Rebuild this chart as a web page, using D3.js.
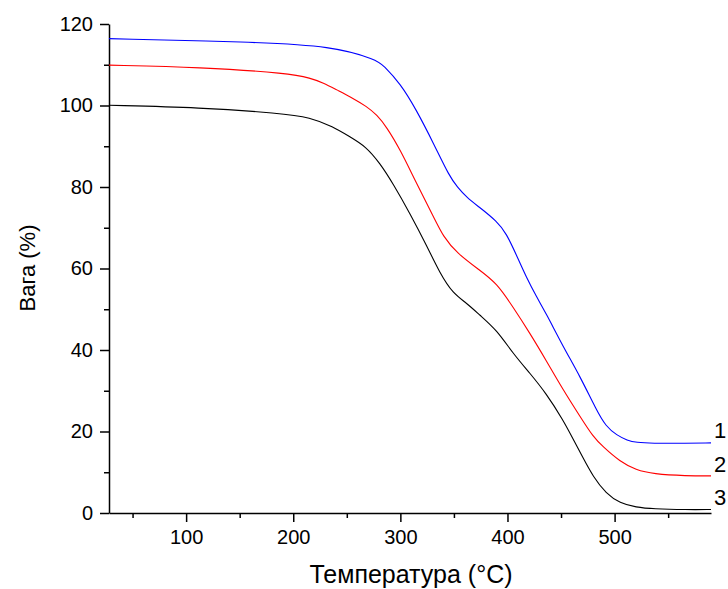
<!DOCTYPE html>
<html>
<head>
<meta charset="utf-8">
<script src="https://cdn.jsdelivr.net/npm/d3@7.9.0/dist/d3.min.js"></script>
<style>
  body { margin: 0; background: #fff; }
  svg { font-family: Arial, "Liberation Sans", sans-serif; }
</style>
</head>
<body>
<svg id="chart" width="728" height="589"></svg>
<script>
// temperature (°C) and weight (%)
const temp1 = [28, 160, 237, 278, 284, 300, 315, 331, 346, 353, 362, 374, 390, 399, 408, 418, 427, 436, 452, 468, 483, 492, 502, 512, 520, 536, 560, 590];
const mass1 = [116.4, 115.6, 114.6, 111.2, 109.9, 105.4, 98.9, 90.7, 82.5, 80.1, 77.4, 75.0, 71.6, 68.6, 63.5, 57.6, 53.1, 49, 40.8, 33.4, 25.3, 21.2, 19.1, 17.8, 17.3, 17.1, 17.1, 17.2];

const temp2 = [28, 113, 197, 216, 228, 241, 253, 269, 278, 287, 300, 315, 331, 340, 353, 374, 390, 405, 421, 436, 452, 468, 480, 489, 505, 520, 536, 567, 590];
const mass2 = [109.9, 109.4, 107.9, 106.7, 105.6, 103.8, 102.2, 99.7, 97.7, 94.8, 89.1, 80.9, 72.7, 67.8, 63.7, 59.6, 56.4, 50.6, 44.1, 37.5, 30.2, 23.6, 18.7, 16.3, 12.6, 10.55, 9.57, 9.1, 9.1];

const temp3 = [28, 113, 188, 216, 237, 253, 268, 281, 293, 309, 325, 337, 349, 362, 374, 390, 405, 421, 436, 452, 461, 470, 480, 492, 505, 520, 536, 567, 590];
const mass3 = [100.05, 99.5, 98.1, 97.1, 94.8, 92.3, 89.9, 85.8, 80.9, 73.5, 65.4, 58.8, 53.9, 51.5, 48.6, 44.9, 39.2, 34.3, 29.4, 22.8, 18.3, 13.8, 8.9, 4.8, 2.4, 1.4, 1.0, 0.8, 0.85];

const seriesLabels = ['1', '2', '3'];
const seriesColors = ['#0000ff', '#ff0000', '#000000'];

const xTicks = [100, 200, 300, 400, 500];
const xMinor = [50, 150, 250, 350, 450, 550];
const yTicks = [0, 20, 40, 60, 80, 100, 120];
const yMinor = [10, 30, 50, 70, 90, 110];

const svg = d3.select('#chart');

let x = d3.scaleLinear().domain([28, 590]).range([109, 711]);
let y = d3.scaleLinear().domain([0, 120]).range([513, 24]);

// minor ticks
svg.append('g')
  .attr('transform', 'translate(0,513)')
  .call(d3.axisBottom(x).tickValues(xMinor).tickSize(5).tickSizeOuter(0).tickFormat(''))
  .call((g) => g.select('.domain').remove());
svg.append('g')
  .attr('transform', 'translate(109,0)')
  .call(d3.axisLeft(y).tickValues(yMinor).tickSize(5).tickSizeOuter(0).tickFormat(''))
  .call((g) => g.select('.domain').remove());

// major axes
let xAxis = svg.append('g')
  .attr('transform', 'translate(0,513)')
  .call(d3.axisBottom(x).tickValues(xTicks).tickSize(9).tickPadding(8).tickSizeOuter(0));
let yAxis = svg.append('g')
  .attr('transform', 'translate(109,0)')
  .call(d3.axisLeft(y).tickValues(yTicks).tickSize(9).tickPadding(7).tickSizeOuter(0));

[xAxis, yAxis].forEach((g) => {
  g.select('.domain').attr('stroke', '#000').attr('stroke-width', 1.5);
  g.selectAll('text').attr('font-size', 20).attr('fill', '#000')
    .attr('font-family', 'Arial, "Liberation Sans", sans-serif');
});
svg.selectAll('.tick line').attr('stroke', '#000').attr('stroke-width', 1.5);

// curves (basis smooths the hand-read points)
let line = d3.line()
  .x((d) => x(d[0]))
  .y((d) => y(d[1]))
  .curve(d3.curveBasis);

let series = [
  d3.zip(temp1, mass1),
  d3.zip(temp2, mass2),
  d3.zip(temp3, mass3),
];

series.forEach((pts, i) => {
  svg.append('path')
    .attr('d', line(pts))
    .attr('fill', 'none')
    .attr('stroke', seriesColors[i])
    .attr('stroke-width', 1.1);
});

// series numbers at the right end
let labelY = [438, 472, 505];
seriesLabels.forEach((lab, i) => {
  svg.append('text')
    .attr('x', 714)
    .attr('y', labelY[i])
    .attr('font-size', 22)
    .text(lab);
});

// axis titles
svg.append('text')
  .attr('x', 411)
  .attr('y', 583)
  .attr('text-anchor', 'middle')
  .attr('font-size', 25)
  .text('Температура (°C)');

svg.append('text')
  .attr('transform', 'translate(35,268) rotate(-90)')
  .attr('text-anchor', 'middle')
  .attr('font-size', 22)
  .text('Вага (%)');
</script>
</body>
</html>
